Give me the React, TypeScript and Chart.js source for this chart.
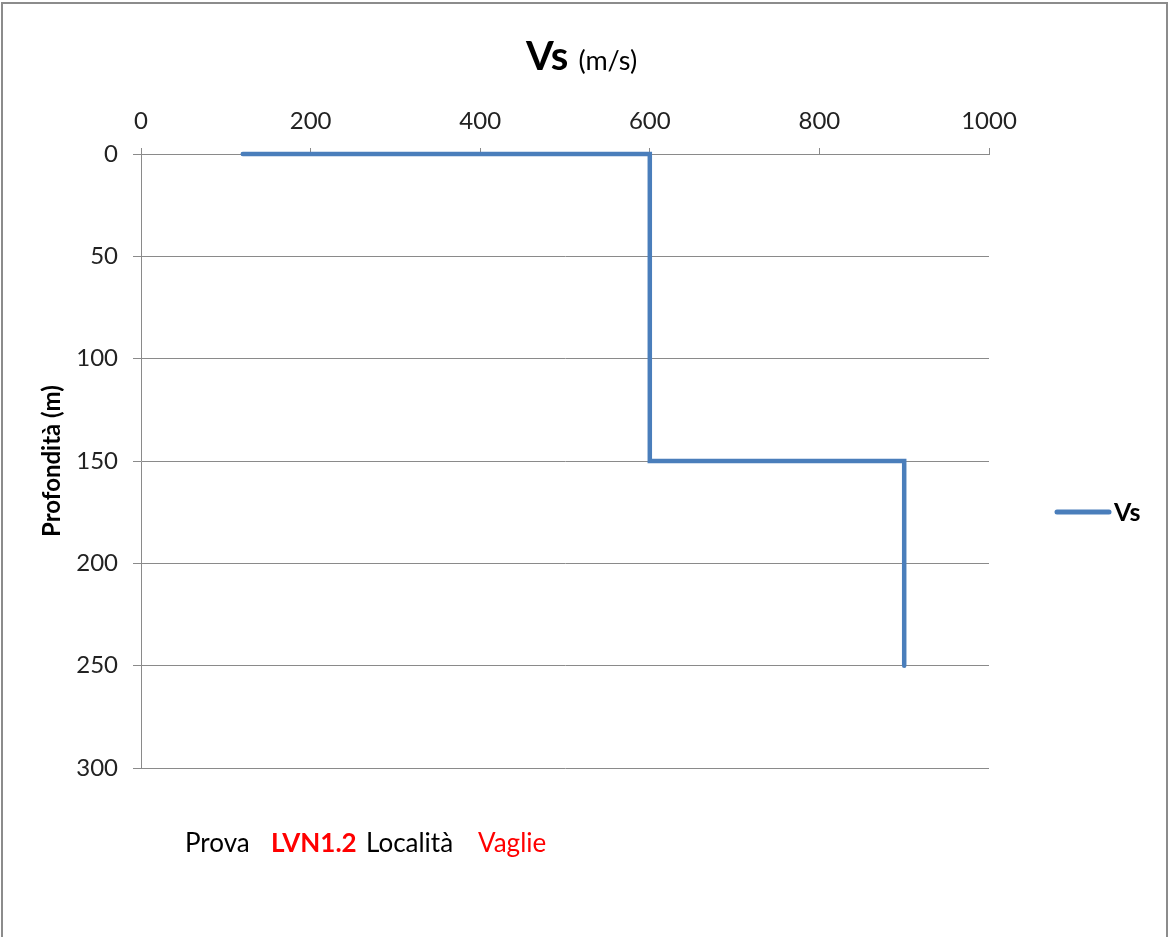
import React, { useEffect, useRef } from "react";
import { Chart, registerables } from "chart.js";

Chart.register(...registerables);

const seriesName = "Vs";
const velocity = [120, 600, 600, 900, 900];
const depth = [0, 0, 150, 150, 250];
const xTicks = [0, 200, 400, 600, 800, 1000];
const yTicks = [0, 50, 100, 150, 200, 250, 300];
const titleMain = "Vs";
const titleUnit = "(m/s)";
const yTitle = "Profondità (m)";
const footerParts = [
  { text: "Prova", color: "#000000", bold: false, x: 185 },
  { text: "LVN1.2", color: "#ff0000", bold: true, x: 271 },
  { text: "Località", color: "#000000", bold: false, x: 366 },
  { text: "Vaglie", color: "#ff0000", bold: false, x: 478 },
];

const FONT = "Lato, 'Open Sans', sans-serif";
const LINE_COLOR = "#4a7ebb";
const GRID = "#8a8a8a";

const decorPlugin = {
  id: "decor",
  afterDraw(chart: any) {
    const ctx = chart.ctx;
    ctx.save();
    ctx.textBaseline = "alphabetic";
    ctx.textAlign = "left";
    // title
    ctx.fillStyle = "#000";
    ctx.font = `bold 40px ${FONT}`;
    ctx.fillText(titleMain, 526, 70);
    const w = ctx.measureText(titleMain).width;
    ctx.font = `27px ${FONT}`;
    ctx.fillText(titleUnit, 526 + w + 10, 70);
    // legend
    ctx.strokeStyle = LINE_COLOR;
    ctx.lineWidth = 5;
    ctx.lineCap = "round";
    ctx.beginPath();
    ctx.moveTo(1057, 512);
    ctx.lineTo(1109, 512);
    ctx.stroke();
    ctx.fillStyle = "#000";
    ctx.font = `bold 25px ${FONT}`;
    ctx.textBaseline = "middle";
    ctx.fillText(chart.data.datasets[0].label, 1114, 513);
    // footer
    ctx.textBaseline = "alphabetic";
    for (const p of footerParts) {
      ctx.font = `${p.bold ? "bold " : ""}26px ${FONT}`;
      ctx.fillStyle = p.color;
      ctx.fillText(p.text, p.x, 852);
    }
    ctx.restore();
  },
};

export default function App() {
  const ref = useRef<HTMLCanvasElement>(null);
  useEffect(() => {
    if (!ref.current) return;
    const points = velocity.map((v, i) => ({ x: v, y: depth[i] }));
    const chart = new Chart(ref.current, {
      type: "scatter",
      data: {
        datasets: [
          {
            label: seriesName,
            data: points,
            showLine: true,
            borderColor: LINE_COLOR,
            backgroundColor: LINE_COLOR,
            borderWidth: 4.5,
            pointRadius: 0,
            pointHoverRadius: 0,
            tension: 0,
            clip: false,
            borderCapStyle: "round",
            borderJoinStyle: "miter",
          } as any,
        ],
      },
      plugins: [decorPlugin],
      options: {
        animation: false,
        responsive: false,
        devicePixelRatio: 1,
        layout: { padding: { left: 0, top: 0, right: 179, bottom: 169 } },
        plugins: {
          legend: { display: false },
          tooltip: { enabled: false },
          title: { display: false },
        },
        scales: {
          x: {
            type: "linear",
            position: "top",
            min: 0,
            max: 1000,
            afterBuildTicks: (s: any) => {
              s.ticks = xTicks.map((v) => ({ value: v }));
            },
            afterFit: (s: any) => {
              s.height = 154;
            },
            grid: {
              drawOnChartArea: false,
              drawTicks: true,
              tickLength: 6,
              color: GRID,
            },
            border: { display: true, color: GRID, width: 1 },
            ticks: {
              color: "#222",
              font: { family: FONT, size: 24 },
              padding: 12,
              maxRotation: 0,
              callback: (v: any) => String(v),
            },
          },
          y: {
            type: "linear",
            reverse: true,
            min: 0,
            max: 300,
            afterBuildTicks: (s: any) => {
              s.ticks = yTicks.map((v) => ({ value: v }));
            },
            afterFit: (s: any) => {
              s.width = 141;
            },
            grid: {
              color: GRID,
              tickLength: 8,
              drawTicks: true,
            },
            border: { display: true, color: GRID, width: 1 },
            ticks: {
              color: "#222",
              font: { family: FONT, size: 24 },
              padding: 15,
              callback: (v: any) => String(v),
            },
            title: {
              display: true,
              text: yTitle,
              color: "#000",
              font: { family: FONT, size: 24, weight: "bold" },
              padding: { top: 38, bottom: 0 },
            },
          },
        },
      } as any,
    });
    return () => chart.destroy();
  }, []);

  return (
    <div
      style={{
        position: "fixed",
        left: 0,
        top: 0,
        width: 1168,
        height: 937,
        overflow: "hidden",
        background: "#fff",
      }}
    >
      <canvas
        ref={ref}
        width={1168}
        height={937}
        style={{ position: "absolute", left: 0, top: 0, width: 1168, height: 937 }}
      />
      <div
        style={{
          position: "absolute",
          left: 1,
          top: 2,
          width: 1163,
          height: 960,
          border: "2px solid #8c8c8c",
          pointerEvents: "none",
        }}
      />
    </div>
  );
}
